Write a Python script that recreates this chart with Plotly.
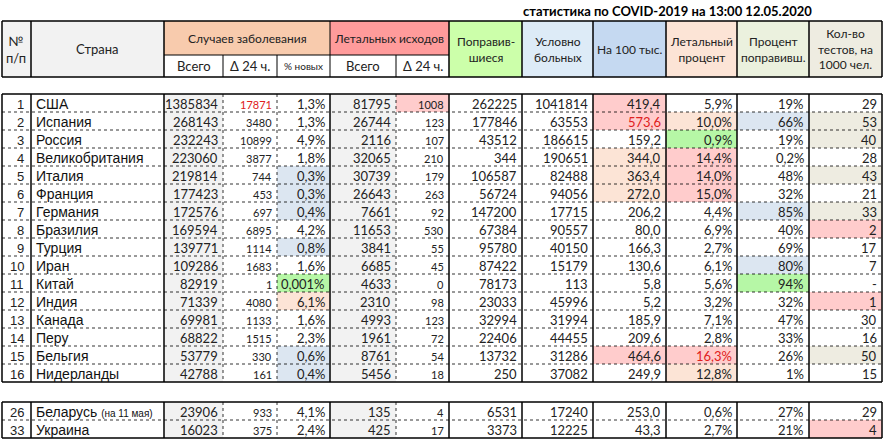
import plotly.graph_objects as go

nums = [1, 2, 3, 4, 5, 6, 7, 8, 9, 10, 11, 12, 13, 14, 15, 16, 26, 33]
countries = ["США", "Испания", "Россия", "Великобритания", "Италия", "Франция", "Германия",
             "Бразилия", "Турция", "Иран", "Китай", "Индия", "Канада", "Перу", "Бельгия",
             "Нидерланды", "Беларусь", "Украина"]
cases = [1385834, 268143, 232243, 223060, 219814, 177423, 172576, 169594, 139771, 109286,
         82919, 71339, 69981, 68822, 53779, 42788, 23906, 16023]
cases_new = [17871, 3480, 10899, 3877, 744, 453, 697, 6895, 1114, 1683, 1, 4080, 1133, 1515,
             330, 161, 933, 375]
pct_new = ["1,3%", "1,3%", "4,9%", "1,8%", "0,3%", "0,3%", "0,4%", "4,2%", "0,8%", "1,6%",
           "0,001%", "6,1%", "1,6%", "2,3%", "0,6%", "0,4%", "4,1%", "2,4%"]
deaths = [81795, 26744, 2116, 32065, 30739, 26643, 7661, 11653, 3841, 6685, 4633, 2310, 4993,
          1961, 8761, 5456, 135, 425]
deaths_new = [1008, 123, 107, 210, 179, 263, 92, 530, 55, 45, 0, 98, 123, 72, 54, 18, 4, 17]
recovered = [262225, 177846, 43512, 344, 106587, 56724, 147200, 67384, 95780, 87422, 78173,
             23033, 32994, 22406, 13732, 250, 6531, 3373]
active = [1041814, 63553, 186615, 190651, 82488, 94056, 17715, 90557, 40150, 15179, 113,
          45996, 31994, 44455, 31286, 37082, 17240, 12225]
per100k = ["419,4", "573,6", "159,2", "344,0", "363,4", "272,0", "206,2", "80,0", "166,3",
           "130,6", "5,8", "5,2", "185,9", "209,6", "464,6", "249,9", "253,0", "43,3"]
lethal = ["5,9%", "10,0%", "0,9%", "14,4%", "14,0%", "15,0%", "4,4%", "6,9%", "2,7%", "6,1%",
          "5,6%", "3,2%", "7,1%", "2,8%", "16,3%", "12,8%", "0,6%", "2,7%"]
recov_pct = ["19%", "66%", "19%", "0,2%", "48%", "32%", "85%", "40%", "69%", "80%", "94%",
             "32%", "47%", "33%", "26%", "1%", "27%", "21%"]
tests = ["29", "53", "40", "28", "43", "21", "33", "2", "17", "7", "-", "1", "30", "16", "50",
         "15", "29", "4"]

# colours
GREY = "#F2F2F2"
PINK = "#FFCCCC"
PEACH = "#FCE4D6"
BLUE = "#DCE6F1"
GREEN = "#B6F7A6"
BEIGE = "#EEECE1"

edges = [2, 31, 164, 223, 277, 330, 396, 449, 522, 593, 666, 737, 809, 882]
row_tops = [94 + 18 * i for i in range(16)] + [402, 420]
row_h = 18

columns = [cases, cases_new, pct_new, deaths, deaths_new, recovered, active, per100k,
           lethal, recov_pct, tests]
# fill highlights: (column index in `columns`, row index) -> colour
fills = {
    (4, 0): PINK,
    (2, 4): BLUE, (2, 5): BLUE, (2, 6): BLUE, (2, 8): BLUE, (2, 14): BLUE, (2, 15): BLUE,
    (2, 10): GREEN, (2, 11): PEACH,
    (7, 0): PINK, (7, 1): PINK, (7, 3): PEACH, (7, 4): PEACH, (7, 5): PEACH, (7, 14): PINK,
    (8, 1): PEACH, (8, 2): GREEN, (8, 3): PINK, (8, 4): PINK, (8, 5): PINK, (8, 14): PINK,
    (8, 15): PEACH,
    (9, 1): BLUE, (9, 6): BLUE, (9, 9): BLUE, (9, 10): GREEN,
    (10, 1): BEIGE, (10, 2): BEIGE, (10, 4): BEIGE, (10, 6): BEIGE, (10, 14): BEIGE,
    (10, 7): PINK, (10, 11): PINK, (10, 17): PINK,
}
red_text = {(1, 0), (7, 1), (8, 14)}
small_cols = {1, 4}

fig = go.Figure()
shapes = []
ann = []


def rect(x0, x1, y0, y1, color):
    shapes.append(dict(type="rect", x0=x0, x1=x1, y0=y0, y1=y1, fillcolor=color,
                       line=dict(width=0), layer="below"))


def line(x0, y0, x1, y1, dash="solid", width=1):
    shapes.append(dict(type="line", x0=x0, y0=y0, x1=x1, y1=y1,
                       line=dict(color="black", width=width, dash=dash)))


def text(x, y, s, anchor="center", size=13, color="#222", font="Lato", bold=False):
    ann.append(dict(x=x, y=y, text=f"<b>{s}</b>" if bold else s, showarrow=False,
                    xanchor=anchor, yanchor="middle",
                    font=dict(family=font, size=size, color=color)))


# header
H0, H1, H2 = 21, 55, 77
rect(edges[0], edges[2], H0, H2, GREY)
rect(edges[2], edges[5], H0, H1, "#F8CBAD")
rect(edges[5], edges[7], H0, H1, "#FF9B9B")
rect(edges[7], edges[8], H0, H2, "#CCFFAA")
rect(edges[8], edges[9], H0, H2, "#DDEBF7")
rect(edges[9], edges[10], H0, H2, "#C5D9F1")
rect(edges[10], edges[11], H0, H2, "#FCE4D6")
rect(edges[11], edges[12], H0, H2, "#EBF1DE")
rect(edges[12], edges[13], H0, H2, "#EEECE1")

text(667, 11, "статистика по COVID-2019 на 13:00 12.05.2020", size=13, color="black", bold=True)
text(16, 49, "№<br>п/п", size=13)
text(97, 49, "Страна", size=13)
text(247, 38, "Случаев заболевания", size=12)
text(389, 38, "Летальных исходов", size=12)
for (a, b), s, sz in zip([(2, 3), (3, 4), (4, 5), (5, 6), (6, 7)],
                         ["Всего", "Δ 24 ч.", "% новых", "Всего", "Δ 24 ч."],
                         [13, 13, 10, 13, 13]):
    text((edges[a] + edges[b]) / 2, 66, s, size=sz)
for i, s in enumerate(["Поправив-<br>шиеся", "Условно<br>больных", "На 100 тыс.",
                       "Летальный<br>процент", "Процент<br>поправивш.",
                       "Кол-во<br>тестов, на<br>1000 чел."]):
    text((edges[7 + i] + edges[8 + i]) / 2, 49, s, size=12)

for x in [edges[0], edges[1], edges[2], edges[7], edges[8], edges[9], edges[10], edges[11],
          edges[12], edges[13]]:
    line(x, H0, x, H2, width=1.5)
for x in edges[3:7]:
    line(x, H1, x, H2, width=1)
line(edges[5], H0, edges[5], H1)
line(edges[0], H0, edges[-1], H0, width=1.5)
line(edges[2], H1, edges[7], H1)
line(edges[0], H2, edges[-1], H2, width=1.5)

# body blocks
blocks = [(0, 16), (16, 18)]
for start, end in blocks:
    top = row_tops[start]
    bottom = row_tops[end - 1] + row_h
    rect(edges[2], edges[3], top, bottom, GREY)
    rect(edges[5], edges[6], top, bottom, GREY)
    for i in range(start, end):
        y0 = row_tops[i]
        for c in range(len(columns)):
            if (c, i) in fills:
                rect(edges[c + 2], edges[c + 3], y0, y0 + row_h, fills[(c, i)])
        yc = y0 + row_h / 2 + 1
        text(edges[1] - 5, yc, str(nums[i]), anchor="right", size=13, font="Liberation Sans")
        name = countries[i]
        if name == "Беларусь":
            name += " <span style='font-size:10px'>(на 11 мая)</span>"
        text(edges[1] + 3, yc, name, anchor="left", size=14, color="#111",
             font="Liberation Sans")
        for c, col in enumerate(columns):
            clr = "#E02020" if (c, i) in red_text else "#222"
            sz = 11 if c in small_cols else 13
            text(edges[c + 3] - 3, yc, str(col[i]), anchor="right", size=sz, color=clr)
        if i < end - 1:
            line(edges[0], y0 + row_h, edges[-1], y0 + row_h, dash="dot", width=0.8)
    for x in edges:
        if x in (edges[3], edges[4], edges[6]):
            line(x, top, x, bottom, dash="dot", width=0.8)
        else:
            line(x, top, x, bottom, width=1.5)
    line(edges[0], top, edges[-1], top, width=1.5)
    line(edges[0], bottom, edges[-1], bottom, width=1.5)

fig.update_layout(
    width=886, height=441, margin=dict(l=0, r=0, t=0, b=0),
    paper_bgcolor="white", plot_bgcolor="white",
    xaxis=dict(range=[0, 886], visible=False, fixedrange=True),
    yaxis=dict(range=[441, 0], visible=False, fixedrange=True),
    shapes=shapes, annotations=ann, showlegend=False,
)
fig.write_html("out.html", config={"displayModeBar": False},
               post_script="document.body.style.margin='0';document.body.style.overflow='hidden';")
